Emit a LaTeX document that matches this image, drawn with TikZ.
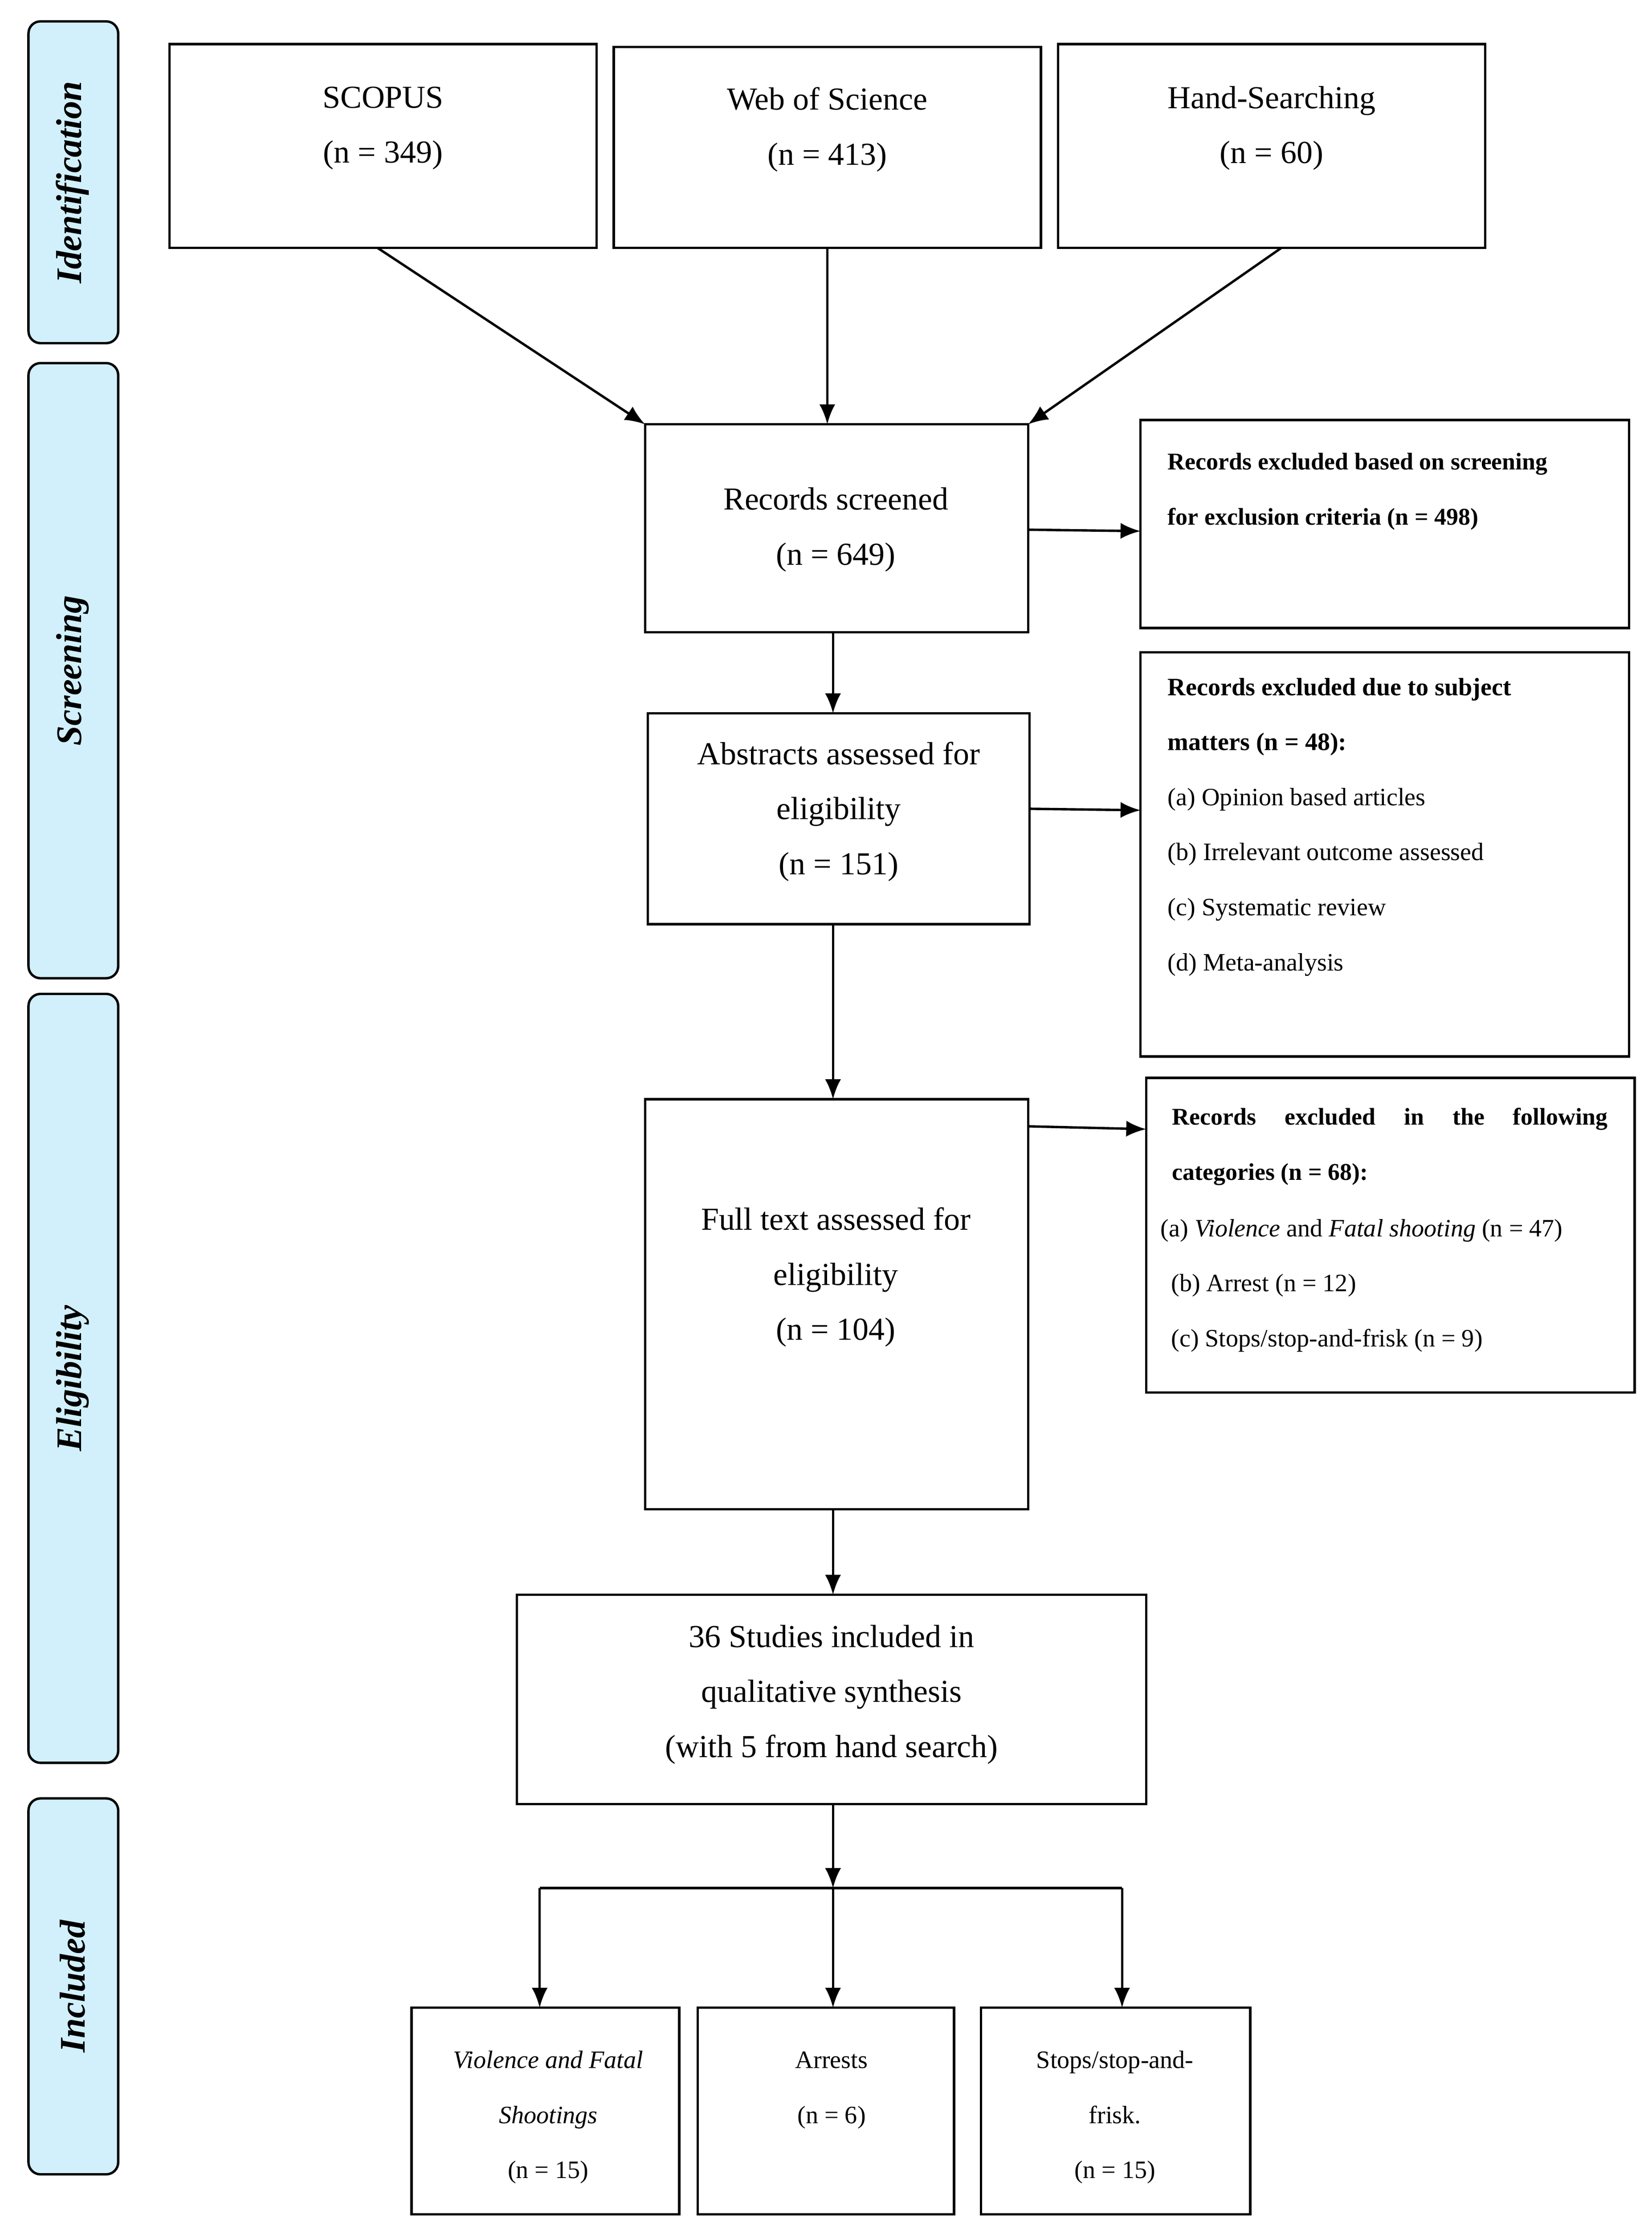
\documentclass[tikz,border=0pt]{standalone}
\usepackage{fontspec}
\setmainfont{Liberation Serif}
\usetikzlibrary{arrows.meta}
\begin{document}
\begin{tikzpicture}[x=0.05cm,y=-0.05cm,
  box/.style={draw,line width=2.4pt,inner sep=0pt},
  main/.style={font=\fontsize{32}{55}\selectfont,align=center},
  small/.style={font=\fontsize{25}{55}\selectfont,align=left,anchor=north west,inner sep=0pt},
  bsmall/.style={font=\bfseries\fontsize{24}{55}\selectfont},
  side/.style={draw,line width=2.4pt,rounded corners=12pt,fill=cyan!18!white},
  sidet/.style={font=\bfseries\itshape\fontsize{36}{40}\selectfont,rotate=90},
  arr/.style={line width=2.4pt,-{Latex[length=20pt,width=16pt]}}]
\useasboundingbox (0,0) rectangle (1160,1564);
% side labels
\draw[side] (20,15) rectangle (83,241); \node[sidet] (l1) at (51,128) {Identification};
\draw[side] (20,255) rectangle (83,687); \node[sidet] (l2) at (51,471) {Screening};
\draw[side] (20,698) rectangle (83,1238); \node[sidet] (l3) at (51,968) {Eligibility};
\draw[side] (20,1263) rectangle (83,1527); \node[sidet] (l4) at (51,1395) {Included};
% top
\draw[box] (119,31) rectangle (419,174); \node[main] (s) at (269,90) {SCOPUS\\(n = 349)};
\draw[box] (431,33) rectangle (731,174); \node[main] (w) at (581,91) {Web of Science\\(n = 413)};
\draw[box] (743,31) rectangle (1043,174); \node[main] (h) at (893,90) {Hand-Searching\\(n = 60)};
\coordinate (s0) at (265,174); \coordinate (w0) at (581,174); \coordinate (h0) at (900,174);
% screened
\draw[box] (453,298) rectangle (722,444); \node[main] (r) at (587,372) {Records screened\\(n = 649)};
\coordinate (sa) at (453,298); \coordinate (wa) at (581,298); \coordinate (ha) at (722,298);
\draw[arr] (s0) -- (sa); \draw[arr] (w0) -- (wa); \draw[arr] (h0) -- (ha);
\draw[box] (801,295) rectangle (1144,441);
\node[small,bsmall] (e1) at (820,318) {Records excluded based on screening\\for exclusion criteria (n = 498)};
\draw[arr] (722,372) -- (801,373);
% abstracts
\draw[box] (455,501) rectangle (723,649);
\node[main] (a) at (589,570) {Abstracts assessed for\\eligibility\\(n = 151)};
\draw[arr] (585,444) -- (585,501);
\draw[box] (801,458) rectangle (1144,742);
\node[small] (e2) at (820,476) {\textbf{Records excluded due to subject}\\\textbf{matters (n = 48):}\\(a) Opinion based articles\\(b) Irrelevant outcome assessed\\(c) Systematic review\\(d) Meta-analysis};
\draw[arr] (723,568) -- (801,569);
% full text
\draw[box] (453,772) rectangle (722,1060);
\node[main] (f) at (587,897) {Full text assessed for\\eligibility\\(n = 104)};
\draw[arr] (585,649) -- (585,772);
\draw[box] (805,757) rectangle (1148,978);
\node[small,bsmall] (e3t) at (823,778) {\makebox[15.3cm][s]{Records excluded in the following}\\categories (n = 68):};
\node[small] (e3) at (815,856) {(a) \textit{Violence} and \textit{Fatal shooting} (n = 47)\\\ \,(b) Arrest (n = 12)\\\ \,(c) Stops/stop-and-frisk (n = 9)};
\draw[arr] (722,791) -- (805,793);
% included
\draw[box] (363,1120) rectangle (805,1267);
\node[main] (i) at (584,1190) {36 Studies included in\\qualitative synthesis\\(with 5 from hand search)};
\draw[arr] (585,1060) -- (585,1120);
\draw[arr] (585,1267) -- (585,1326);
\draw[line width=2.4pt] (379,1326) -- (788,1326);
\draw[arr] (379,1326) -- (379,1410);
\draw[arr] (585,1326) -- (585,1410);
\draw[arr] (788,1326) -- (788,1410);
\draw[box] (289,1410) rectangle (477,1555);
\node[font=\fontsize{25}{55}\selectfont,align=center] (b1) at (385,1487) {\textit{Violence and Fatal}\\\textit{Shootings}\\(n = 15)};
\draw[box] (490,1410) rectangle (670,1555);
\node[font=\fontsize{25}{55}\selectfont,align=center] (b2) at (584,1468) {Arrests\\(n = 6)};
\draw[box] (689,1410) rectangle (878,1555);
\node[font=\fontsize{25}{55}\selectfont,align=center] (b3) at (783,1487) {Stops/stop-and-\\frisk.\\(n = 15)};
\end{tikzpicture}
\end{document}
